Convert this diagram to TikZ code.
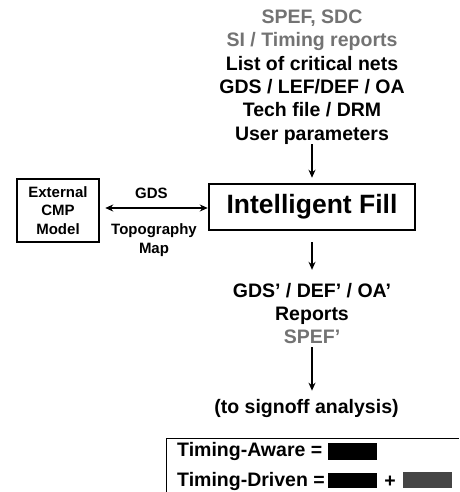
\documentclass[tikz,border=0pt]{standalone}
\usepackage{fontspec}
\setmainfont{Liberation Sans}
\usetikzlibrary{arrows.meta}
\definecolor{softgray}{gray}{0.45}
\definecolor{swatchgray}{gray}{0.27}

\begin{document}
\begin{tikzpicture}[x=1pt,y=-1pt,
  txt/.style={font=\fontsize{19.5}{23.3}\selectfont\bfseries, align=center, inner sep=0pt},
  smalltxt/.style={font=\fontsize{15}{18.5}\selectfont\bfseries, align=center, inner sep=0pt},
  boxed/.style={draw, line width=2.5pt, inner sep=0pt},
  flow/.style={-{Stealth[length=8pt,width=7pt]}, line width=1.6pt},
  twoway/.style={{Stealth[length=8pt,width=7pt]}-{Stealth[length=8pt,width=7pt]}, line width=1.6pt},
  swatch/.style={draw=none, inner sep=0pt, minimum width=49pt}]
\useasboundingbox (0,0) rectangle (459,492);

% inputs to the fill engine
\node[txt, anchor=north] (inputs) at (312,9.8)
  {\textcolor{softgray}{SPEF, SDC}\\
   \textcolor{softgray}{SI / Timing reports}\\
   List of critical nets\\
   GDS / LEF/DEF / OA\\
   Tech file / DRM\\
   User parameters};

% main engine and external model
\node[boxed, minimum width=206pt, minimum height=46pt,
      font=\fontsize{26.5}{30}\selectfont\bfseries] (fill) at (312,207) {Intelligent Fill};
\node[boxed, smalltxt, minimum width=82pt, minimum height=63pt] (cmp) at (58,210.5)
  {External\\CMP\\Model};

\coordinate (cmpR) at ([xshift=5pt]cmp.east |- 0,208);
\coordinate (fillL) at (fill.west |- 0,208);
\draw[twoway] (cmpR) -- (fillL);
\node[smalltxt] (gds) at (151.5,193) {GDS};
\node[smalltxt] (topo) at (154,240) {Topography\\Map};

% outputs
\node[txt] (outputs) at (312,313.5)
  {GDS' / DEF' / OA'\\Reports\\\textcolor{softgray}{SPEF'}};
\node[txt] (signoff) at (306.5,408) {(to signoff analysis)};

\draw[flow, shorten >=5pt] (inputs.south) -- (fill.north);
\draw[flow, shorten <=11pt, shorten >=13pt] (fill.south) -- (outputs.north -| fill.south);
\draw[flow, shorten <=3pt] (outputs.south) -- ([yshift=8pt]signoff.north -| outputs.south);

% legend
\draw[line width=1pt] (166,492) -- (166,438) -- (459,438);
\node[txt, anchor=west] (aware) at (177,451) {Timing-Aware =};
\node[txt, anchor=west] (driven) at (177,481) {Timing-Driven =};
\node[swatch, fill=black, minimum height=17pt] (awareblk) at (352.5,451.5) {};
\node[swatch, fill=black, minimum height=15pt] (drivenblk) at (352.5,480.5) {};
\node[txt] (plus) at (390,482) {+};
\node[swatch, fill=swatchgray, minimum height=16pt] (drivengry) at (427.5,480) {};
\end{tikzpicture}
\end{document}
